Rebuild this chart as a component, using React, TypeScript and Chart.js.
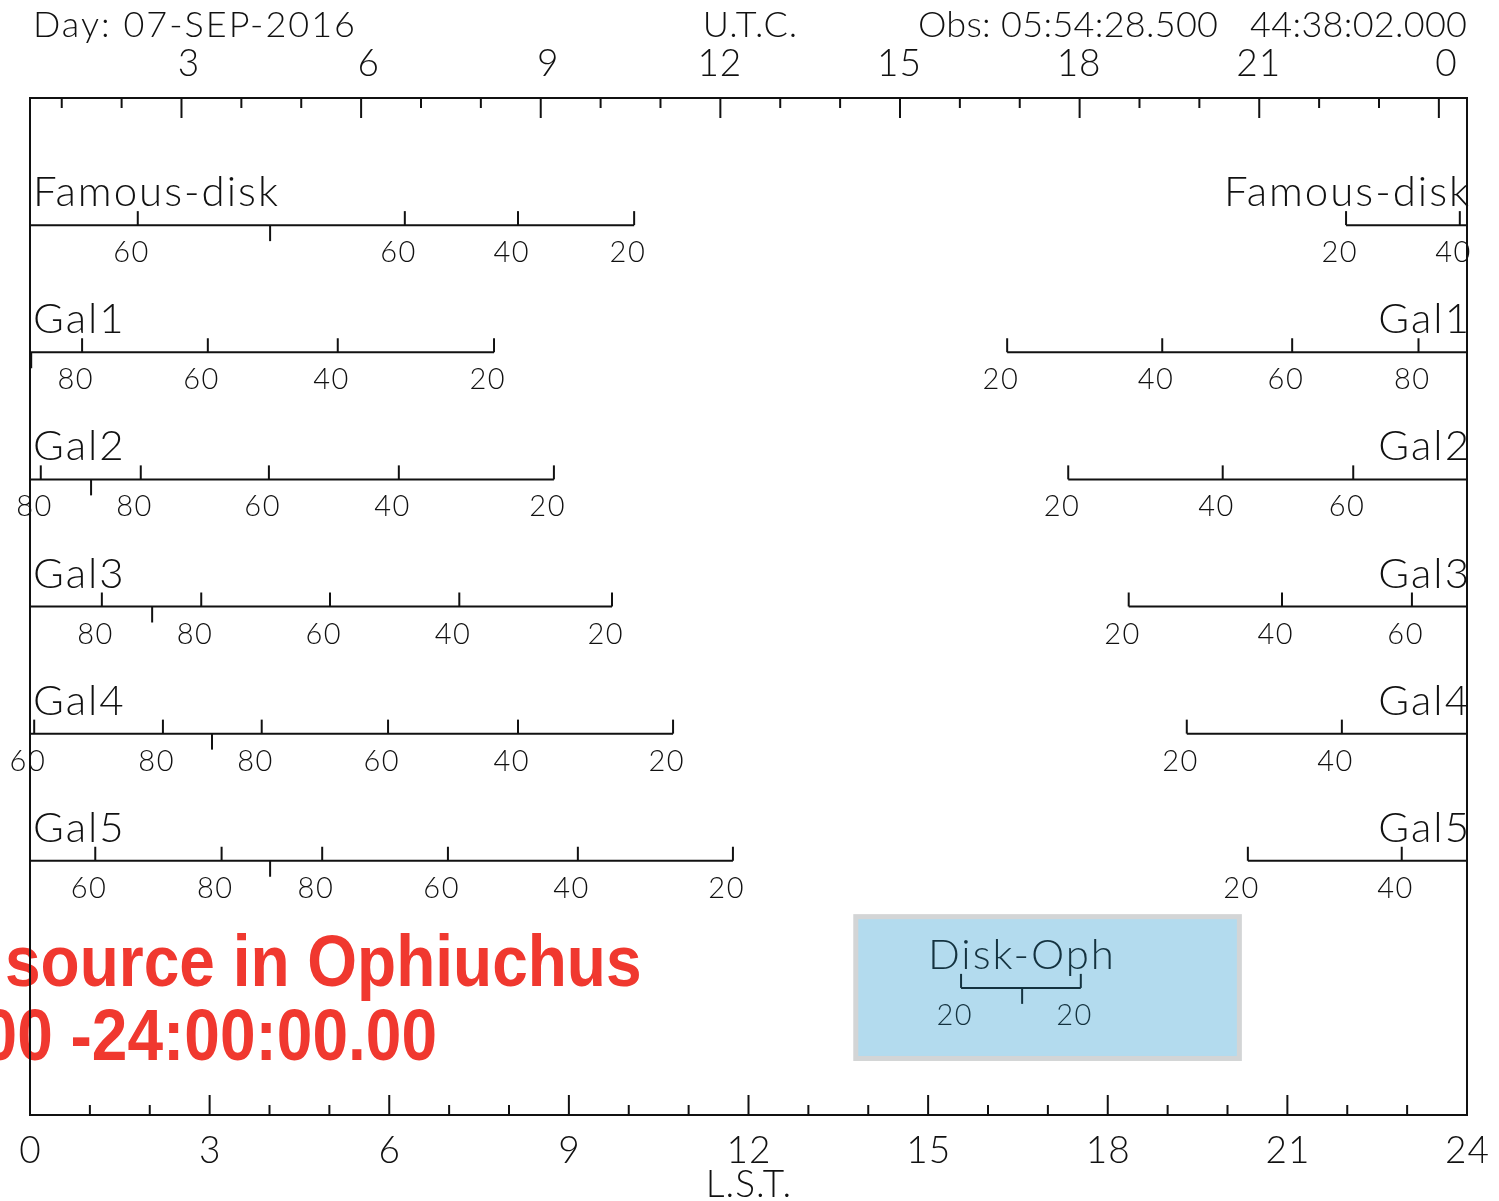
import React, { useEffect, useRef } from 'react';
import { Chart, registerables } from 'chart.js';

Chart.register(...registerables);

// ---------- axis data ----------
const LST_TICKS = [0, 3, 6, 9, 12, 15, 18, 21, 24];
const LST_LABELS = ['0', '3', '6', '9', '12', '15', '18', '21', '24'];
const UTC_OFFSET_H = 0.47; // LST = UTC - offset
const UTC_MAJOR_HOURS = [3, 6, 9, 12, 15, 18, 21, 24];
const UTC_LABELS = ['3', '6', '9', '12', '15', '18', '21', '0'];

const HEADER_DAY = 'Day: 07-SEP-2016';
const HEADER_UTC = 'U.T.C.';
const HEADER_OBS = 'Obs: 05:54:28.500';
const HEADER_COORD = '44:38:02.000';
const X_TITLE = 'L.S.T.';
const RED_LINE_1 = 'source in Ophiuchus';
const RED_LINE_2 = '00 -24:00:00.00';

// ---------- sources (LST of elevation marks, elevation labels, transit LST) ----------
const SOURCE_NAMES = ['Famous-disk', 'Gal1', 'Gal2', 'Gal3', 'Gal4', 'Gal5', 'Disk-Oph'];

const famousDiskLst = [21.98, 23.88, 1.8, 6.26, 8.15, 10.09];
const famousDiskElev = [20, 40, 60, 60, 40, 20];
const famousDiskTransit = 4.01;

const gal1Lst = [16.32, 18.91, 21.08, 23.19, 0.87, 2.97, 5.14, 7.75];
const gal1Elev = [20, 40, 60, 80, 80, 60, 40, 20];
const gal1Transit = 0.02;

const gal2Lst = [17.34, 19.92, 22.1, 0.18, 1.85, 3.99, 6.16, 8.75];
const gal2Elev = [20, 40, 60, 80, 80, 60, 40, 20];
const gal2Transit = 1.02;

const gal3Lst = [18.35, 20.91, 23.08, 1.2, 2.86, 5.01, 7.17, 9.72];
const gal3Elev = [20, 40, 60, 80, 80, 60, 40, 20];
const gal3Transit = 2.04;

const gal4Lst = [19.32, 21.91, 0.07, 2.22, 3.87, 5.98, 8.15, 10.74];
const gal4Elev = [20, 40, 60, 80, 80, 60, 40, 20];
const gal4Transit = 3.04;

const gal5Lst = [20.34, 22.91, 1.09, 3.2, 4.88, 6.98, 9.15, 11.74];
const gal5Elev = [20, 40, 60, 80, 80, 60, 40, 20];
const gal5Transit = 4.01;

const diskOphLst = [15.55, 17.55];
const diskOphElev = [20, 20];
const diskOphTransit = 16.57;

const SOURCE_LST = [famousDiskLst, gal1Lst, gal2Lst, gal3Lst, gal4Lst, gal5Lst, diskOphLst];
const SOURCE_ELEV = [famousDiskElev, gal1Elev, gal2Elev, gal3Elev, gal4Elev, gal5Elev, diskOphElev];
const SOURCE_TRANSIT = [famousDiskTransit, gal1Transit, gal2Transit, gal3Transit, gal4Transit, gal5Transit, diskOphTransit];

// highlighted source box (LST range, row range)
const HIGHLIGHT_INDEX = 6;
const HIGHLIGHT_LST = [13.75, 20.24];
const HIGHLIGHT_ROWS = [6.42, 7.575];

// ---------- styles ----------
const INK = '#111111';
const INK_HL = '#14323f';
const RED = '#f0382f';
const BOX_FILL = '#b3dbee';
const BOX_EDGE = '#d3d5d6';
const FONT_FAMILY = 'Lato, "DejaVu Sans", sans-serif';

function txt(
  ctx: CanvasRenderingContext2D,
  s: string,
  x: number,
  y: number,
  font: string,
  align: CanvasTextAlign = 'center',
  color = INK,
  spacing = 0,
  sx = 1,
  sy = 1
) {
  ctx.save();
  ctx.translate(x, y);
  ctx.scale(sx, sy);
  ctx.font = font;
  (ctx as any).letterSpacing = `${spacing}px`;
  ctx.textAlign = align;
  ctx.textBaseline = 'alphabetic';
  ctx.fillStyle = color;
  const dx = align === 'right' ? spacing : align === 'center' ? spacing / 2 : 0;
  ctx.fillText(s, dx, 0);
  ctx.restore();
}

function seg(ctx: CanvasRenderingContext2D, x1: number, y1: number, x2: number, y2: number) {
  ctx.beginPath();
  ctx.moveTo(x1, y1);
  ctx.lineTo(x2, y2);
  ctx.stroke();
}

const overlayPlugin = {
  id: 'observability',
  beforeDatasetsDraw(chart: any) {
    const ctx: CanvasRenderingContext2D = chart.ctx;
    const xs = chart.scales.x;
    const ys = chart.scales.y;
    // red annotation text
    const redFont = `bold 64px "Liberation Sans", Arial, sans-serif`;
    txt(ctx, RED_LINE_1, 5, 986, redFont, 'left', RED, 0, 1, 1.13);
    txt(ctx, RED_LINE_2, 437, 1060, redFont, 'right', RED, 0, 1, 1.13);
    // highlight box
    const bx1 = xs.getPixelForValue(HIGHLIGHT_LST[0]);
    const bx2 = xs.getPixelForValue(HIGHLIGHT_LST[1]);
    const by1 = ys.getPixelForValue(HIGHLIGHT_ROWS[0]);
    const by2 = ys.getPixelForValue(HIGHLIGHT_ROWS[1]);
    ctx.save();
    ctx.fillStyle = BOX_EDGE;
    ctx.fillRect(bx1, by1, bx2 - bx1, by2 - by1);
    ctx.fillStyle = BOX_FILL;
    ctx.fillRect(bx1 + 5, by1 + 5, bx2 - bx1 - 10, by2 - by1 - 10);
    ctx.restore();
  },
  afterDatasetsDraw(chart: any) {
    const ctx: CanvasRenderingContext2D = chart.ctx;
    const xs = chart.scales.x;
    const ys = chart.scales.y;
    const a = chart.chartArea;
    ctx.save();
    ctx.strokeStyle = INK;
    ctx.lineWidth = 2;
    ctx.lineCap = 'butt';

    // frame
    ctx.strokeRect(a.left, a.top, a.right - a.left, a.bottom - a.top);

    // bottom LST ticks (inward)
    for (let h = 1; h < 24; h++) {
      const x = xs.getPixelForValue(h);
      const len = h % 3 === 0 ? 20 : 10;
      seg(ctx, x, a.bottom, x, a.bottom - len);
    }
    // top UTC ticks (inward)
    for (let h = 1; h <= 24; h++) {
      const x = xs.getPixelForValue(h - UTC_OFFSET_H);
      const len = h % 3 === 0 ? 20 : 10;
      seg(ctx, x, a.top, x, a.top + len);
    }

    const axisFont = `300 37px ${FONT_FAMILY}`;
    LST_TICKS.forEach((v, i) => {
      txt(ctx, LST_LABELS[i], xs.getPixelForValue(v), 1163, axisFont, 'center', INK, 1);
    });
    txt(ctx, X_TITLE, xs.getPixelForValue(12), 1197, axisFont, 'center', INK, 1);

    UTC_MAJOR_HOURS.forEach((h, i) => {
      const lab = UTC_LABELS[i];
      const x = xs.getPixelForValue(h - UTC_OFFSET_H) + (lab.length === 1 ? 7 : -1);
      txt(ctx, lab, x, 76, axisFont, 'center', INK, 1);
    });

    const headFont = `300 36px ${FONT_FAMILY}`;
    txt(ctx, HEADER_DAY, 33, 37, headFont, 'left', INK, 2);
    txt(ctx, HEADER_UTC, 750, 37, headFont, 'center', INK, 1);
    txt(ctx, HEADER_OBS, 1218, 37, headFont, 'right', INK, 0.3);
    txt(ctx, HEADER_COORD, 1467, 37, headFont, 'right', INK, 0.3);

    // source rows
    const nameFont = `300 42px ${FONT_FAMILY}`;
    const numFont = `300 29px ${FONT_FAMILY}`;
    SOURCE_NAMES.forEach((name, i) => {
      const color = i === HIGHLIGHT_INDEX ? INK_HL : INK;
      ctx.strokeStyle = color;
      const y = ys.getPixelForValue(i + 1);
      const lst = SOURCE_LST[i];
      const elev = SOURCE_ELEV[i];
      lst.forEach((v, k) => {
        const x = xs.getPixelForValue(v);
        seg(ctx, x, y, x, y - 14);
        txt(ctx, String(elev[k]), x - 7, y + 37, numFont, 'center', color, 1.5);
      });
      const tx = xs.getPixelForValue(SOURCE_TRANSIT[i]);
      seg(ctx, tx, y, tx, y + 16);
      const start = lst[0];
      const end = lst[lst.length - 1];
      if (start > end) {
        txt(ctx, name, a.left + 3, y - 19, nameFont, 'left', color, 2);
        txt(ctx, name, a.right + 2, y - 19, nameFont, 'right', color, 2);
      } else {
        const mid = (xs.getPixelForValue(start) + xs.getPixelForValue(end)) / 2;
        txt(ctx, name, mid, y - 19, nameFont, 'center', color, 2);
      }
    });
    ctx.restore();
  },
};

function buildDatasets() {
  const ds: any[] = [];
  SOURCE_NAMES.forEach((name, i) => {
    const lst = SOURCE_LST[i];
    const start = lst[0];
    const end = lst[lst.length - 1];
    const row = i + 1;
    const color = i === HIGHLIGHT_INDEX ? INK_HL : INK;
    const pieces = start > end ? [[start, 24], [0, end]] : [[start, end]];
    pieces.forEach((p) => {
      ds.push({
        label: name,
        data: [
          { x: p[0], y: row },
          { x: p[1], y: row },
        ],
        borderColor: color,
        borderWidth: 2,
        pointRadius: 0,
        tension: 0,
        fill: false,
      });
    });
  });
  return ds;
}

export default function App() {
  const ref = useRef<HTMLCanvasElement | null>(null);
  useEffect(() => {
    if (!ref.current) return;
    const chart = new Chart(ref.current, {
      type: 'line',
      data: { datasets: buildDatasets() },
      options: {
        animation: false,
        responsive: false,
        maintainAspectRatio: false,
        events: [],
        layout: { padding: { left: 30, right: 32, top: 98, bottom: 86 } },
        scales: {
          x: { type: 'linear', min: 0, max: 24, display: false },
          y: { type: 'linear', min: 0, max: 8, reverse: true, display: false },
        },
        plugins: { legend: { display: false }, tooltip: { enabled: false }, title: { display: false } },
      },
      plugins: [overlayPlugin],
    } as any);
    return () => chart.destroy();
  }, []);
  return (
    <div style={{ position: 'fixed', left: 0, top: 0, width: 1499, height: 1201, background: '#fff', overflow: 'hidden' }}>
      <canvas ref={ref} width={1499} height={1201} style={{ display: 'block', width: 1499, height: 1201 }} />
    </div>
  );
}
